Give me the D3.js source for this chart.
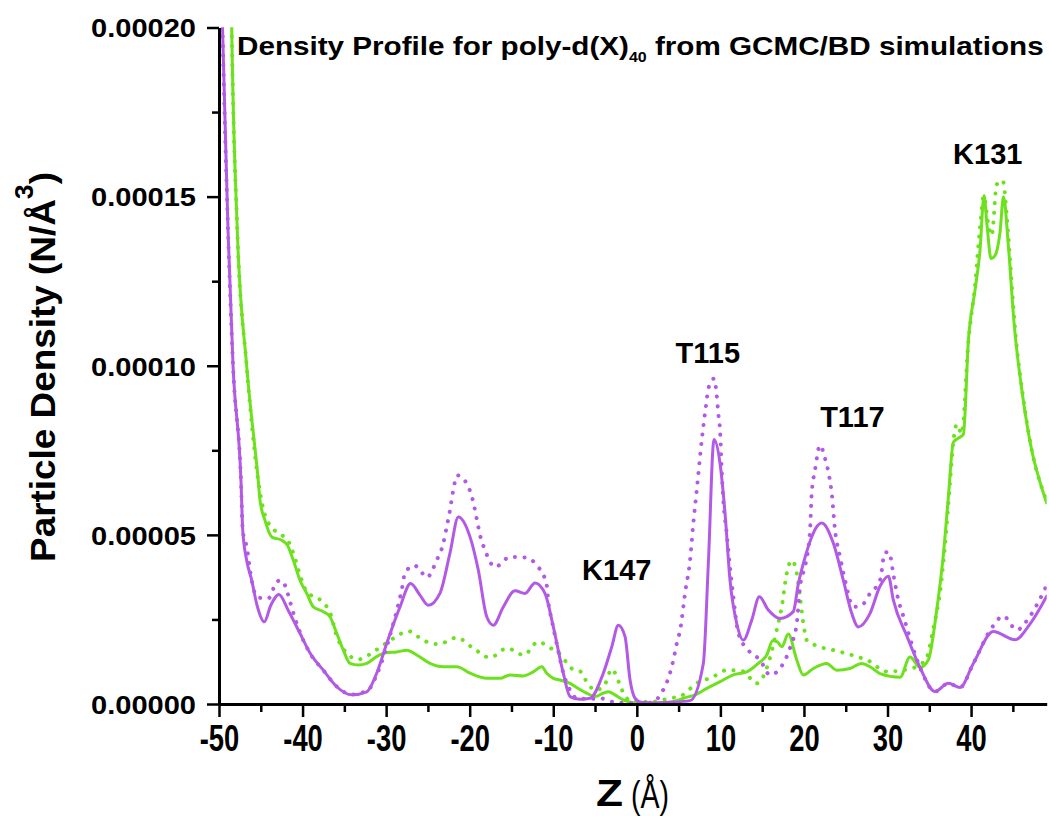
<!DOCTYPE html>
<meta charset="utf-8">
<style>
    html,
    body {
        margin: 0;
        padding: 0;
        background: #fff;
    }

    svg text {
        font-family: "Liberation Sans", Arial, sans-serif;
        font-weight: bold;
        fill: #000;
    }
</style>
<svg id="chart" width="1049" height="816"></svg>
<script src="https://d3js.org/d3.v7.min.js"></script>
<script>
    // z in Å, density in units of 1e-5 N/Å^3
    const purpleSolid = [
        [-49.9, 24], [-49.58, 20], [-48.92, 14], [-48.32, 10], [-47.37, 6.6], [-47.16, 5.14], [-46.69, 4.25],
        [-46.09, 3.66], [-45.45, 2.92], [-44.58, 2.43], [-43.8, 2.92], [-42.82, 3.24], [-41.74, 2.78],
        [-40.31, 2.09], [-39.11, 1.51], [-37.52, 1.0], [-35.91, 0.51], [-34.12, 0.27], [-32.32, 0.36],
        [-31.13, 0.91], [-29.93, 1.79], [-28.34, 2.87], [-27.06, 3.56], [-25.95, 3.22], [-24.95, 2.92],
        [-23.55, 3.28], [-22.36, 4.46], [-21.36, 5.53], [-19.96, 4.94], [-18.97, 3.96], [-17.96, 2.58],
        [-17.17, 2.33], [-15.98, 2.87], [-14.58, 3.35], [-13.38, 3.27], [-12.18, 3.58], [-10.99, 3.27],
        [-9.99, 2.28], [-8.8, 0.91], [-7.99, 0.22], [-6.8, 0.14], [-5.6, 0.17], [-4.01, 0.91], [-3.0, 1.69],
        [-2.21, 2.33], [-1.41, 1.99], [-0.81, 0.71], [-0.21, 0.17], [0.5, 0.05], [2, 0.03], [4, 0.05],
        [6.37, 0.1], [7.96, 1.2], [8.56, 4.16], [9.24, 7.82], [9.96, 7.11], [10.56, 5.63], [11.15, 3.66],
        [11.96, 2.38], [12.75, 1.89], [13.75, 2.48], [14.66, 3.17], [15.74, 2.78], [17.14, 2.53],
        [18.73, 2.73], [19.33, 3.56], [19.93, 4.16], [22.13, 5.35], [23.52, 4.75], [24.71, 3.66],
        [25.72, 2.68], [26.51, 2.28], [27.91, 2.68], [29.1, 3.48], [30.1, 3.78], [30.7, 3.07], [32.3, 2.02],
        [33.89, 1.08], [35.69, 0.37], [37.28, 0.61], [38.68, 0.49], [40.27, 1.2], [42.66, 2.14],
        [45.26, 1.9], [47.06, 2.37], [49.05, 3.19]
    ];

    const purpleDotted = [
        [-49.9, 24], [-49.58, 20], [-48.92, 14], [-48.32, 10], [-47.37, 6.6], [-47.16, 5.14], [-46.69, 4.65],
        [-46.09, 3.66], [-45.49, 3.17], [-44.85, 3.13], [-44.1, 3.12], [-43.1, 3.61], [-42.58, 3.66],
        [-42.1, 3.51], [-41.5, 3.02], [-40.9, 2.53], [-40.1, 1.99], [-39.11, 1.5], [-37.52, 1.0],
        [-35.91, 0.52], [-34.12, 0.28], [-32.6, 0.36], [-32.13, 0.41], [-31.13, 0.86], [-29.14, 2.38],
        [-28.14, 3.37], [-27.74, 3.87], [-26.63, 4.1], [-25.95, 3.96], [-25.14, 3.74], [-23.95, 4.25],
        [-23.16, 4.75], [-22.75, 5.24], [-22.36, 5.73], [-22.03, 6.24], [-21.48, 6.76], [-20.36, 6.52],
        [-19.57, 5.97], [-19.16, 5.48], [-18.76, 4.99], [-18.17, 4.55], [-16.97, 4.05], [-15.17, 4.35],
        [-13.38, 4.33], [-11.79, 4.05], [-10.78, 3.51], [-10.59, 3.02], [-10.18, 2.48], [-9.55, 1.74],
        [-8.8, 0.92], [-7.99, 0.41], [-7.19, 0.17], [-5.6, 0.15], [-4.4, 0.17], [-3.0, 0.07], [-2.01, 0.04],
        [0, 0.02], [2, 0.05], [2.78, 0.27], [3.77, 0.76], [4.37, 1.3], [4.78, 1.79], [5.25, 2.28],
        [5.77, 3.27], [6.37, 4.25], [6.76, 5.34], [7.17, 6.32], [7.77, 7.8], [8.28, 8.83], [8.56, 9.32],
        [9.24, 9.62], [9.56, 9.13], [9.75, 8.59], [9.96, 8.09], [10.16, 6.91], [10.35, 6.02], [10.76, 5.04],
        [11.15, 4.05], [11.55, 3.17], [12.15, 2.09], [13.34, 1.59], [14.74, 1.3], [15.94, 0.86],
        [17.53, 1.2], [18.45, 1.74], [19.14, 2.38], [19.53, 3.46], [20.21, 4.16], [20.73, 5.14],
        [20.93, 6.22], [21.32, 6.91], [21.92, 7.65], [22.52, 7.26], [23.04, 6.71], [23.33, 6.22],
        [23.72, 5.14], [24.32, 4.35], [24.92, 3.66], [25.91, 2.87], [26.92, 2.92], [27.91, 3.27],
        [29.1, 3.66], [29.7, 4.48], [30.18, 4.49], [30.7, 3.84], [31.3, 3.07], [31.89, 2.6], [33.89, 1.08],
        [35.69, 0.37], [37.28, 0.61], [38.68, 0.49], [40.27, 1.2], [42.47, 2.25], [43.86, 2.6],
        [45.46, 2.19], [47.06, 2.6], [49.05, 3.51]
    ];

    const greenSolid = [
        [-48.7, 24], [-48.48, 20], [-47.81, 14], [-46.69, 10], [-45.3, 6.6], [-45.09, 6.02], [-44.5, 5.43],
        [-43.69, 4.94], [-42.5, 4.84], [-41.83, 4.7], [-41.11, 4.25], [-40.31, 3.66], [-39.5, 3.27],
        [-38.71, 2.87], [-37.52, 2.73], [-36.72, 2.58], [-35.91, 2.09], [-35.12, 1.59], [-34.32, 1.2],
        [-33.33, 1.15], [-32.32, 1.2], [-31.13, 1.4], [-29.93, 1.52], [-28.73, 1.54], [-27.54, 1.59],
        [-26.34, 1.45], [-24.75, 1.2], [-23.16, 1.1], [-21.55, 1.1], [-19.96, 0.91], [-17.96, 0.76],
        [-16.37, 0.76], [-15.17, 0.86], [-13.58, 0.83], [-12.39, 0.95], [-11.38, 1.1], [-10.78, 0.91],
        [-9.99, 0.76], [-9.19, 0.71], [-7.99, 0.61], [-7.0, 0.46], [-6.0, 0.32], [-5.0, 0.22], [-4.01, 0.32],
        [-3.41, 0.36], [-2.61, 0.27], [-1.62, 0.12], [-0.42, 0.04], [2, 0.03], [4, 0.05], [4.78, 0.1],
        [5.57, 0.17], [6.97, 0.27], [8.37, 0.46], [9.96, 0.66], [11.55, 0.86], [13.15, 0.95], [14.54, 1.2],
        [15.55, 1.45], [16.26, 1.87], [16.81, 1.84], [17.34, 1.69], [18.13, 2.07], [19.14, 1.3],
        [19.93, 0.86], [21.12, 1.05], [22.73, 1.2], [23.92, 1.0], [25.51, 1.05], [26.91, 1.2], [27.91, 1.1],
        [29.1, 0.9], [31.5, 0.79], [32.69, 1.39], [33.89, 1.08], [34.88, 1.3], [35.89, 2.78], [36.68, 4.4],
        [37.28, 6.11], [37.88, 7.74], [38.48, 7.86], [39.08, 7.97], [39.68, 10.75], [40.47, 12.23],
        [41.07, 13.41], [41.55, 15.03], [41.91, 14.15], [42.39, 13.17], [42.87, 13.26], [43.46, 13.94],
        [43.88, 15.0], [44.46, 13.56], [45.14, 11.28], [46.25, 8.98], [47.26, 7.5], [48.25, 6.56],
        [49.05, 5.94]
    ];

    const greenDotted = [
        [-48.7, 24], [-48.48, 20], [-47.81, 14], [-46.69, 10], [-45.3, 6.6], [-44.5, 5.58], [-43.36, 5.14],
        [-41.71, 4.81], [-40.9, 4.3], [-40.31, 3.81], [-39.5, 3.32], [-37.82, 3.06], [-36.62, 2.64],
        [-36.02, 2.09], [-35.12, 1.63], [-33.33, 1.32], [-31.24, 1.59], [-29.33, 1.91], [-27.29, 2.15],
        [-25.55, 1.88], [-23.76, 1.77], [-21.55, 1.96], [-19.57, 1.65], [-17.57, 1.37], [-15.53, 1.65],
        [-13.54, 1.45], [-11.79, 1.84], [-10.53, 1.68], [-9.19, 1.47], [-7.79, 1.05], [-6.68, 0.95],
        [-5.9, 0.61], [-4.88, 0.41], [-3.81, 0.59], [-3.0, 1.03], [-2.01, 0.56], [-1.41, 0.22],
        [-0.31, 0.07], [1.78, 0.07], [3.97, 0.17], [5.29, 0.24], [7.26, 0.63], [8.96, 0.78], [10.76, 1.0],
        [12.65, 0.97], [14.35, 0.61], [15.74, 1.2], [16.74, 2.19], [17.34, 2.87], [17.94, 3.86],
        [18.54, 4.25], [19.14, 3.86], [19.53, 3.17], [19.93, 2.38], [20.33, 1.89], [21.8, 1.7],
        [23.92, 1.57], [25.81, 1.44], [27.71, 1.28], [29.91, 0.96], [32.3, 1.02], [34.1, 1.2], [34.7, 1.37],
        [35.49, 2.25], [36.29, 3.31], [36.89, 4.71], [37.49, 6.59], [37.88, 7.76], [38.29, 8.27],
        [38.88, 7.99], [39.67, 10.69], [40.47, 12.37], [41.07, 14.09], [41.53, 15.03], [42.03, 14.23],
        [42.47, 13.85], [43.07, 15.36], [43.79, 15.48], [44.27, 14.44], [44.66, 13.15], [45.06, 11.75],
        [45.46, 10.57], [45.86, 9.75], [47.06, 7.77], [49.05, 6.0]
    ];

    const xMajorTicks = [-50, -40, -30, -20, -10, 0, 10, 20, 30, 40];
    const xMinorTicks = [-45, -35, -25, -15, -5, 5, 15, 25, 35, 45];
    const yMajorTicks = [0, 5, 10, 15, 20];
    const yMinorTicks = [2.5, 7.5, 12.5, 17.5];

    const peakLabels = ["K147", "T115", "T117", "K131"];
    const peakZ = [-2.4, 8.5, 25.8, 42.0];
    const peakV = [3.66, 10.07, 8.18, 15.95];

    const purple = "#b25ae6",
        green = "#6ee11e";

    let svg = d3.select("#chart");

    let x = d3.scaleLinear().domain([-50, 49.05]).range([219, 1046.7]);
    let y = d3.scaleLinear().domain([0, 20]).range([704, 27.5]);

    // horizontal factor that brings a text to a given width
    function fitWidth(sel, w) {
        let bw = sel.node().getBBox().width;
        return w / bw;
    }

    svg.append("clipPath").attr("id", "plotclip")
        .append("rect")
        .attr("x", x.range()[0]).attr("y", y.range()[1])
        .attr("width", x.range()[1] - x.range()[0])
        .attr("height", y.range()[0] - y.range()[1]);

    let line = d3.line()
        .x(d => x(d[0]))
        .y(d => y(d[1]))
        .curve(d3.curveMonotoneX);

    let plot = svg.append("g").attr("clip-path", "url(#plotclip)");

    let series = [
        {data: greenSolid, color: green, dotted: false},
        {data: greenDotted, color: green, dotted: true},
        {data: purpleSolid, color: purple, dotted: false},
        {data: purpleDotted, color: purple, dotted: true},
    ];

    plot.selectAll("path")
        .data(series)
        .join("path")
        .attr("d", d => line(d.data))
        .attr("fill", "none")
        .attr("stroke", d => d.color)
        .attr("stroke-width", d => d.dotted ? 4 : 3)
        .attr("stroke-linecap", "round")
        .attr("stroke-linejoin", "round")
        .attr("stroke-dasharray", d => d.dotted ? "0.1 9.5" : null);

    // x axis
    let gx = svg.append("g").attr("transform", "translate(0," + y(0) + ")");
    gx.call(d3.axisBottom(x).tickValues(xMajorTicks).tickSize(13).tickSizeOuter(0).tickFormat(d => String(d)));
    gx.append("g").call(d3.axisBottom(x).tickValues(xMinorTicks).tickSize(8).tickSizeOuter(0).tickFormat(""))
        .select(".domain").remove();
    gx.select(".domain").attr("stroke-width", 3);
    gx.selectAll(".tick line").attr("stroke-width", 2.5);
    gx.selectAll(".tick text")
        .attr("font-size", 37)
        .attr("y", 0).attr("dy", null)
        .attr("transform", "translate(0,47) scale(0.74,1)");

    // y axis
    let gy = svg.append("g").attr("transform", "translate(" + x(-50) + ",0)");
    gy.call(d3.axisLeft(y).tickValues(yMajorTicks).tickSize(12).tickSizeOuter(0)
        .tickFormat(d => (d * 1e-5).toFixed(5)));
    gy.append("g").call(d3.axisLeft(y).tickValues(yMinorTicks).tickSize(7).tickSizeOuter(0).tickFormat(""))
        .select(".domain").remove();
    gy.select(".domain").attr("stroke-width", 3);
    gy.selectAll(".tick line").attr("stroke-width", 2.5);
    gy.selectAll(".tick text")
        .attr("font-size", 26)
        .attr("x", 0)
        .attr("dy", "0.36em")
        .each(function () {
            let t = d3.select(this);
            let s = fitWidth(t, 105);
            t.attr("transform", "translate(-23,0) scale(" + s + ",1)");
        });

    // title
    let title = svg.append("text")
        .attr("font-size", 26);
    title.append("tspan").text("Density Profile for poly-d(X)");
    title.append("tspan").attr("font-size", 14).attr("dy", 7).text("40");
    title.append("tspan").attr("dy", -7).text(" from GCMC/BD simulations");
    title.attr("transform", "translate(237,55) scale(" + fitWidth(title, 807) + ",1)");

    // peak annotations
    svg.append("g").selectAll("text")
        .data(peakLabels)
        .join("text")
        .attr("font-size", 29)
        .attr("text-anchor", "middle")
        .attr("x", (d, i) => x(peakZ[i]))
        .attr("y", (d, i) => y(peakV[i]))
        .text(d => d);

    // x axis title
    let zt = svg.append("text").attr("font-size", 36).text("Z");
    zt.attr("transform", "translate(596,806) scale(" + fitWidth(zt, 27) + ",1)");
    let zu = svg.append("text").attr("font-size", 38)
        .style("font-weight", "normal").text("(Å)");
    zu.attr("transform", "translate(631,808) scale(" + fitWidth(zu, 38) + ",1)");

    // y axis title
    let yt = svg.append("text")
        .attr("font-size", 36)
        .attr("text-anchor", "middle");
    yt.append("tspan").text("Particle Density (N/Å");
    yt.append("tspan").attr("font-size", 26).attr("dy", -22).text("3");
    yt.append("tspan").attr("dy", 22).text(")");
    yt.attr("transform", "translate(55,367) rotate(-90) scale(" + fitWidth(yt, 390) + ",1)");
</script>
